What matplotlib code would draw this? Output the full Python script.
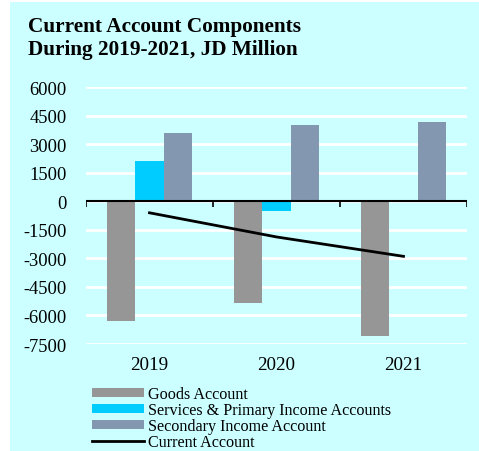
import numpy as np
import matplotlib.pyplot as plt
from matplotlib.patches import Rectangle
from matplotlib.transforms import blended_transform_factory

years = ["2019", "2020", "2021"]
goods = [-6300, -5340, -7100]
services = [2100, -530, 60]
secondary = [3600, 4000, 4150]
current = [-600, -1870, -2890]
yticks = [6000, 4500, 3000, 1500, 0, -1500, -3000, -4500, -6000, -7500]

bg = "#CCFFFF"
plt.rcParams['font.family'] = ['Liberation Serif', 'DejaVu Serif']

fig = plt.figure(figsize=(4.79, 4.52), dpi=100)
fig.patches.append(Rectangle((10/479, 0), 1, 1 - 3/452, transform=fig.transFigure,
                             facecolor=bg, edgecolor='none', zorder=-10))

ax = fig.add_axes([86/479, 1 - 345/452, 381/479, (345 - 88.3)/452])
ax.set_facecolor(bg)

x = np.arange(len(years))
w = 0.222
ax.bar(x - w, goods, w, color="#969696", label="Goods Account", zorder=3)
ax.bar(x, services, w, color="#00CCFF", label="Services & Primary Income Accounts", zorder=3)
ax.bar(x + w, secondary, w, color="#8497B0", label="Secondary Income Account", zorder=3)
ax.plot(x, current, color="black", lw=2, label="Current Account", zorder=4)

ax.set_xlim(-0.5, 2.5)
ax.set_ylim(-7500, 6000)
ax.set_yticks(yticks)
ax.set_yticklabels([str(v) for v in yticks], fontsize=13.3)
ax.set_xticks(x)
ax.set_xticklabels(years, fontsize=13.7)
ax.tick_params(axis='both', length=0)
ax.tick_params(axis='y', pad=14)
ax.tick_params(axis='x', pad=9)
for s in ax.spines.values():
    s.set_visible(False)
ax.grid(axis='y', color='white', lw=2, zorder=0)

# zero axis with small tick marks at category boundaries
ax.axhline(0, color='black', lw=1.5, zorder=5)
trans = blended_transform_factory(ax.transData, ax.transAxes)
zero_frac = 7500 / 13500
ax.vlines(np.arange(len(years) + 1) - 0.5, zero_frac - 0.02, zero_frac, transform=trans,
          color='black', lw=1.2, zorder=5)

fig.text(28/479, 1 - 17/452, "Current Account Components\nDuring 2019-2021, JD Million",
         fontsize=15.3, fontweight='bold', va='top', ha='left', linespacing=1.2)

handles, labels = ax.get_legend_handles_labels()
order = [1, 2, 3, 0]
fig.legend([handles[i] for i in order], [labels[i] for i in order],
           loc='upper left', bbox_to_anchor=(92/479, 1 - 387/452), frameon=False,
           fontsize=11.6, handlelength=3.2, handleheight=0.45, handletextpad=0.25,
           labelspacing=0.0, borderpad=0, borderaxespad=0)

fig.savefig("out.png", dpi=100)
